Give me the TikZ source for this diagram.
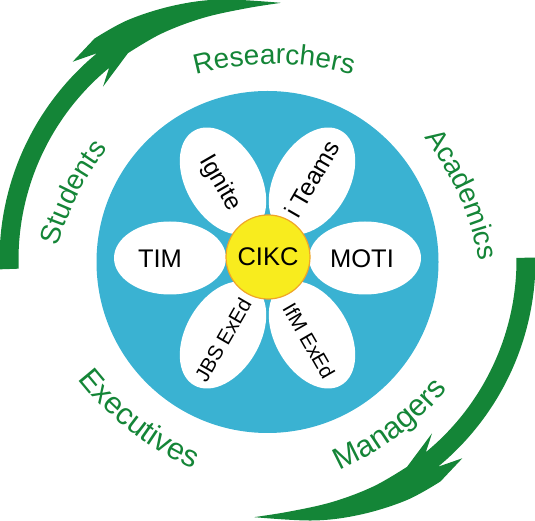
\documentclass[tikz,border=0pt]{standalone}
\usepackage{fontspec}
\setmainfont{Liberation Sans}
\usetikzlibrary{shapes.geometric,decorations.text}
\definecolor{agreen}{RGB}{20,133,55}
\definecolor{dblue}{RGB}{58,178,210}
\definecolor{cyel}{RGB}{248,236,30}
\definecolor{corange}{RGB}{240,165,40}
\newcommand{\lblfont}{\fontsize{28}{28}\selectfont}
\newcommand{\lblfontb}{\fontsize{30.5}{30.5}\selectfont}
\begin{document}
\begin{tikzpicture}[x=1pt,y=1pt,
  petal/.style={ellipse, fill=white, minimum width=112pt, minimum height=73pt, inner sep=0pt},
  bigtext/.style={font=\fontsize{25.5}{25.5}\selectfont, text=black, inner sep=0pt},
  midtext/.style={font=\fontsize{24.5}{24.5}\selectfont, text=black, inner sep=0pt},
  smalltext/.style={font=\fontsize{20.5}{20.5}\selectfont, text=black, inner sep=0pt},
  swoosh/.pic={
    \fill[agreen] (#1:249pt) -- (#1:268pt) arc[start angle=#1, end angle=129.5, radius=268pt]
      -- (134.5:278pt)
      -- plot[smooth, tension=0.6] coordinates {(128:281pt) (120:277.5pt) (110:271pt) (100:264.5pt) (87:257.5pt)}
      -- plot[smooth, tension=0.6] coordinates {(87:257.5pt) (95:252.5pt) (105:250.5pt) (115:250pt) (124:249.5pt)}
      -- (133.5:239pt) -- (129.5:249pt) arc[start angle=129.5, end angle=#1, radius=249pt] -- cycle;
  },
  lbl/.style={decorate, decoration={text along path, text align=center, text color=agreen, text={|\lblfont|#1}}},
  lblb/.style={decorate, decoration={text along path, text align=center, text color=agreen, text={|\lblfontb|#1}}}
]
\useasboundingbox (0,0) rectangle (535,521);
\coordinate (C) at (267.5,261);

% outer swooshes
\pic (leftarrow) at (C) {swoosh=182};
\pic[rotate=180] (rightarrow) at (C) {swoosh=180.5};

% blue disc
\node[circle, fill=dblue, minimum size=342pt, inner sep=0pt] (disc) at (267.5,259) {};

% petals
\node[petal] (p1) at (170,263) {};
\node[petal] (p2) at (365,263) {};
\node[petal, rotate=-60, minimum width=116pt, minimum height=74pt] (p3) at (223,340) {};
\node[petal, rotate=60, minimum width=116pt, minimum height=74pt] (p4) at (312,340) {};
\node[petal, rotate=60, minimum width=116pt, minimum height=74pt] (p5) at (223,186) {};
\node[petal, rotate=-60, minimum width=116pt, minimum height=74pt] (p6) at (312,186) {};

% centre
\node[circle, fill=cyel, draw=corange, line width=1.2pt, minimum size=84pt, inner sep=0pt] (core) at (268,264) {};

% petal texts
\node[bigtext] (t1) at (160,262) {TIM};
\node[bigtext] (t2) at (362,262) {MOTI};
\node[bigtext] (t0) at (268,264) {CIKC};
\node[midtext, rotate=-60] (t3) at (220,338) {Ignite};
\node[midtext, rotate=60] (t4) at (312,342) {i Teams};
\node[smalltext, rotate=60] (t5) at (223,181) {JBS ExEd};
\node[smalltext, rotate=-60] (t6) at (309,180) {IfM ExEd};

% green labels
\path[lbl=Researchers] ([shift={(274,157)}]110:300pt) arc[start angle=110, end angle=70, radius=300pt];
\path[lbl=Students] ([shift={(345.3,189.8)}]173:300pt) arc[start angle=173, end angle=133, radius=300pt];
\path[lbl=Academics] ([shift={(184.9,203)}]44:300pt) arc[start angle=44, end angle=4, radius=300pt];
\path[lblb=Executives] ([shift={(314.7,326.4)}]-148:300pt) arc[start angle=-148, end angle=-108, radius=300pt];
\path[lblb=Managers] ([shift={(217.5,324.6)}]-73:300pt) arc[start angle=-73, end angle=-33, radius=300pt];
\end{tikzpicture}
\end{document}
